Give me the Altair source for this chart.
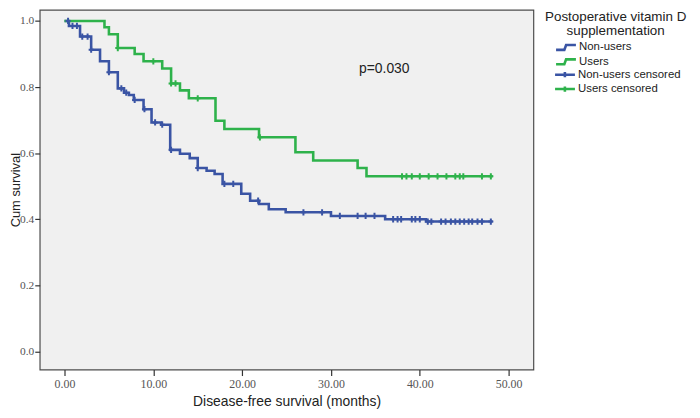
import altair as alt
import pandas as pd

# ---- Kaplan-Meier step data ----
nonusers_time = [0, 0.5, 1.75, 3.0, 4.0, 5.0, 6.0, 6.7, 7.25, 7.8, 8.9, 9.8, 10.9, 11.9, 13.0,
                 14.1, 15.0, 16.0, 16.9, 17.8, 19.9, 20.9, 21.9, 23.0, 24.9, 30.0, 36.1, 40.7, 48.2]
nonusers_surv = [1.0, 0.985, 0.953, 0.913, 0.878, 0.845, 0.796, 0.783, 0.776, 0.761, 0.733, 0.693,
                 0.686, 0.610, 0.598, 0.585, 0.555, 0.547, 0.537, 0.507, 0.477, 0.456, 0.446, 0.430,
                 0.421, 0.410, 0.400, 0.393, 0.393]

users_time = [0, 4.5, 5.0, 6.0, 7.9, 8.9, 11.0, 12.0, 13.0, 14.0, 17.0, 18.0, 21.9, 26.0, 28.0,
              33.0, 34.0, 48.2]
users_surv = [1.0, 0.981, 0.960, 0.918, 0.900, 0.878, 0.856, 0.811, 0.790, 0.766, 0.698, 0.673,
              0.648, 0.603, 0.578, 0.555, 0.530, 0.530]

# ---- censored observations ----
nonusers_cens_time = [0.4, 0.9, 1.4, 2.0, 2.6, 3.0, 5.0, 6.4, 6.95, 7.9, 9.0, 10.2, 11.0, 12.0,
                      15.0, 18.0, 19.0, 21.8, 26.9, 29.0, 31.0, 33.0, 33.9, 34.9, 37.0, 37.5, 37.9,
                      39.1, 39.5, 40.0, 40.9, 41.3, 42.4, 42.9, 43.5, 44.0, 44.5, 45.0, 45.5, 45.9,
                      46.5, 47.0, 48.0]
nonusers_cens_surv = [1.0, 0.985, 0.985, 0.953, 0.953, 0.913, 0.845, 0.796, 0.783, 0.761, 0.733,
                      0.693, 0.686, 0.610, 0.555, 0.507, 0.507, 0.456, 0.421, 0.421, 0.410, 0.410,
                      0.410, 0.410, 0.400, 0.400, 0.400, 0.400, 0.400, 0.400, 0.393, 0.393, 0.393,
                      0.393, 0.393, 0.393, 0.393, 0.393, 0.393, 0.393, 0.393, 0.393, 0.393]

users_cens_time = [6.0, 10.0, 12.0, 12.5, 15.0, 22.0, 38.0, 38.5, 39.1, 40.0, 41.0, 42.0, 43.0,
                   44.0, 44.5, 44.9, 47.0, 48.0]
users_cens_surv = [0.918, 0.878, 0.811, 0.811, 0.766, 0.648, 0.530, 0.530, 0.530, 0.530, 0.530,
                   0.530, 0.530, 0.530, 0.530, 0.530, 0.530, 0.530]

line_groups = ["Non-users", "Users"]
cens_groups = ["Non-users censored", "Users censored"]
legend_title = ["Postoperative vitamin D", "supplementation"]
x_ticks = [0, 10, 20, 30, 40, 50]
y_ticks = [0.0, 0.2, 0.4, 0.6, 0.8, 1.0]

ann_text = ["p=0.030"]
ann_t = [36.0]
ann_s = [0.854]

# ---- styles ----
BLUE = "#3a54a4"
GREEN = "#2eb24b"
STEP_ICON = "M-0.25,0.55L1.6,0.55L2.0,-0.55L4.2,-0.55"
PLUS_ICON = "M-0.25,0L4.2,0M1.95,-0.6L1.95,0.6"
PLUS_MARK = "M-0.8,0L0.8,0M0,-1L0,1"

lines_df = pd.concat([
    pd.DataFrame({"t": nonusers_time, "S": nonusers_surv, "group": line_groups[0]}),
    pd.DataFrame({"t": users_time, "S": users_surv, "group": line_groups[1]}),
], ignore_index=True)
cens_df = pd.concat([
    pd.DataFrame({"t": nonusers_cens_time, "S": nonusers_cens_surv, "kind": cens_groups[0]}),
    pd.DataFrame({"t": users_cens_time, "S": users_cens_surv, "kind": cens_groups[1]}),
], ignore_index=True)
ann_df = pd.DataFrame({"t": ann_t, "S": ann_s, "label": ann_text})

x_enc = alt.X(
    "t:Q",
    scale=alt.Scale(domain=[-2.79, 52.79], nice=False, zero=False),
    axis=alt.Axis(values=x_ticks, format=".2f", title="Disease-free survival (months)",
                  domain=False, grid=False, tickSize=6, tickColor="#333", tickWidth=1.2,
                  labelFont="Liberation Serif", labelFontSize=12, labelColor="#555",
                  labelPadding=3, titleFont="Liberation Sans", titleFontSize=14,
                  titleFontWeight="normal", titleColor="#222", titleY=36,
                  titleBaseline="alphabetic"),
)
y_enc = alt.Y(
    "S:Q",
    scale=alt.Scale(domain=[-0.055, 1.034], nice=False, zero=False),
    axis=alt.Axis(values=y_ticks, format=".1f", title="Cum survival",
                  domain=False, grid=False, tickSize=5, tickColor="#333", tickWidth=1.2,
                  labelFont="Liberation Serif", labelFontSize=11.5, labelColor="#555",
                  labelPadding=1, titleFont="Liberation Sans", titleFontSize=13,
                  titleFontWeight="normal", titleColor="#222", titleX=-20.5,
                  titleBaseline="alphabetic"),
)

common_legend = dict(
    orient="none",
    labelFont="Liberation Sans", labelFontSize=11.5, labelColor="#222", labelOffset=16,
    symbolSize=81, symbolStrokeWidth=2.6, rowPadding=-1.5, padding=0,
)
# the censored legend carries the group title; the line legend sits in the gap below it
legend_cens = alt.Legend(
    title=legend_title, legendX=510, legendY=0, symbolType=PLUS_ICON,
    titleFont="Liberation Sans", titleFontSize=13.5, titleFontWeight="normal",
    titleColor="#222", titleAnchor="middle", titleAlign="center", titlePadding=32,
    titleLineHeight=14,
    **common_legend,
)
legend_lines = alt.Legend(title=None, legendX=516, legendY=32, symbolType=STEP_ICON,
                          **common_legend)

lines = alt.Chart(lines_df).mark_line(interpolate="step-after", strokeWidth=2.6).encode(
    x=x_enc, y=y_enc,
    color=alt.Color("group:N", scale=alt.Scale(domain=line_groups, range=[BLUE, GREEN]),
                    legend=legend_lines),
)
cens = alt.Chart(cens_df).mark_point(filled=False, size=40, strokeWidth=2, opacity=1,
                                     shape=PLUS_MARK).encode(
    x=x_enc, y=y_enc,
    stroke=alt.Stroke("kind:N", scale=alt.Scale(domain=cens_groups, range=[BLUE, GREEN]),
                      legend=legend_cens),
)
ann = alt.Chart(ann_df).mark_text(font="Liberation Sans", fontSize=14, color="#222",
                                  align="center", baseline="middle").encode(
    x=x_enc, y=y_enc, text="label:N"
)

chart = alt.layer(lines, cens, ann).properties(
    width=498, height=363,
    autosize=alt.AutoSizeParams(type="none"),
    padding={"left": 32, "top": 0, "right": 160, "bottom": 39},
).configure_view(fill="#f0f0f0", stroke="#4d4d4d", strokeWidth=1.2)

chart.save("out.html", embed_options={"renderer": "svg", "actions": False})
